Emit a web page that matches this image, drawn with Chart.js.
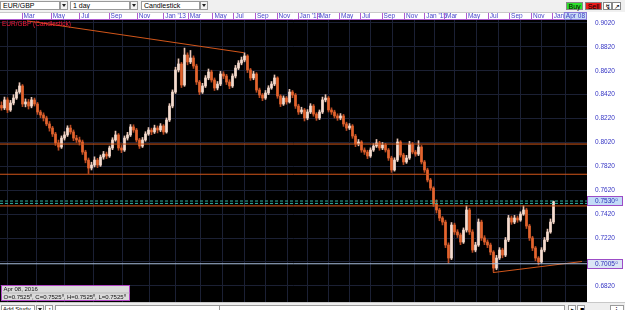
<!DOCTYPE html>
<html>
<head>
<meta charset="utf-8">
<script src="https://cdn.jsdelivr.net/npm/chart.js@4.4.0/dist/chart.umd.min.js"></script>
<style>
body { margin:0; width:625px; height:310px; overflow:hidden; background:#f0f0f0; position:relative;
       font-family:"Liberation Sans", Arial, sans-serif; font-size:7px; color:#000; }
.box { position:absolute; top:1px; height:9px; box-sizing:border-box; background:#fff; border:1px solid #9a9a9a;
       line-height:7px; padding-left:2px; white-space:nowrap; overflow:hidden; }
.arrow { position:absolute; top:1px; height:9px; width:8px; box-sizing:border-box; background:#f4f4f4; border:1px solid #9a9a9a; }
.arrow:after { content:""; position:absolute; left:1px; top:2px; border-left:2.5px solid transparent;
       border-right:2.5px solid transparent; border-top:3px solid #222; }
.btn { position:absolute; top:2px; height:8px; box-sizing:border-box; line-height:7px; text-align:center; border:1px solid #888; }
#cv { position:absolute; left:0; top:12px; }
#bottom { position:absolute; left:0; top:302px; width:625px; height:8px; background:#eeeeee; border-top:1px solid #c8c8c8; }
</style>
</head>
<body>
<div class="box" style="left:0;width:60px">EUR/GBP</div><div class="arrow" style="left:60px"></div>
<div class="box" style="left:70px;width:60px">1 day</div><div class="arrow" style="left:130px"></div>
<div class="box" style="left:141px;width:59px">Candlestick</div><div class="arrow" style="left:200px"></div>
<div class="btn" style="left:566px;width:17px;background:#2ce02c">Buy</div>
<div class="btn" style="left:585px;width:17px;background:#ee1a1a">Sell</div>
<div class="btn" style="left:603px;width:9px;background:#fff">&#8623;</div>
<div class="btn" style="left:612px;width:9px;background:#fff">&#8599;</div>

<canvas id="cv" width="625" height="290"></canvas>

<div id="bottom">
  <div class="box" style="left:1px;top:2px;width:34px;font-size:6px;padding-left:1px">Add Study</div>
  <div class="arrow" style="left:36px;top:2px"></div>
  <div class="box" style="left:45px;top:2px;width:8px">&#8597;</div>
  <div class="box" style="left:55px;top:2px;width:165px"></div>
  <div class="box" style="left:220px;top:2px;width:345px;border-left:none"></div>
  <div class="box" style="left:568px;top:2px;width:8px">&#9656;</div>
  <div class="box" style="left:577px;top:2px;width:8px">&#9632;</div>
  <div class="box" style="left:610px;top:2px;width:14px">&#8942;</div>
</div>

<script>
// EUR/GBP, one candle per slot, prices in pips (x 10000)
const firstOpen = 8330
const closes = [8309,8376,8292,8350,8392,8442,8493,8342,8359,8325,
  8376,8342,8275,8250,8225,8175,8141,8091,8016,7982,
  8057,8083,8141,8108,8057,8041,8024,7940,7873,7806,
  7831,7873,7831,7898,7923,7907,7974,8041,8083,7974,
  7957,8057,8083,8150,8124,8041,7990,8041,8091,8124,
  8108,8141,8124,8158,8108,8208,8325,8442,8627,8677,
  8501,8752,8694,8727,8660,8526,8442,8493,8560,8610,
  8543,8476,8509,8593,8576,8526,8493,8576,8643,8685,
  8710,8744,8627,8560,8593,8459,8417,8392,8434,8476,
  8509,8560,8409,8342,8392,8359,8442,8417,8325,8275,
  8292,8225,8275,8325,8258,8225,8275,8376,8392,8292,
  8275,8242,8225,8242,8175,8141,8158,8074,8007,8024,
  7957,7940,7907,7957,7990,8016,7974,7999,7957,7890,
  7790,7873,8024,7915,7857,7890,8007,7940,7923,7982,
  7857,7790,7706,7639,7505,7455,7388,7354,7162,7053,
  7329,7271,7246,7187,7287,7455,7271,7120,7162,7354,
  7221,7187,7162,7103,6969,7053,7120,7078,7204,7388,
  7354,7388,7371,7421,7455,7321,7221,7137,7053,7020,
  7120,7204,7271,7354,7525]
const highs = [8360,8400,8395,8372,8420,8462,8520,8505,8385,8380,
  8398,8392,8355,8290,8268,8240,8195,8155,8105,8040,
  8075,8110,8160,8165,8125,8080,8065,8040,7955,7890,
  7855,7900,7888,7915,7945,7940,7990,8060,8115,8095,
  7995,8075,8105,8170,8168,8138,8055,8062,8110,8145,
  8140,8165,8158,8178,8170,8225,8345,8460,8650,8720,
  8690,8810,8770,8790,8745,8675,8540,8515,8580,8635,
  8625,8560,8530,8615,8612,8590,8545,8595,8665,8705,
  8735,8770,8755,8640,8615,8605,8475,8430,8455,8495,
  8530,8585,8570,8420,8410,8405,8465,8455,8430,8340,
  8315,8305,8295,8345,8338,8270,8292,8400,8420,8405,
  8310,8290,8260,8262,8255,8190,8178,8170,8088,8045,
  8035,7975,7955,7975,8010,8045,8030,8020,8012,7970,
  7905,7892,8050,8035,7930,7912,8030,8020,7955,8035,
  7995,7870,7805,7720,7650,7540,7470,7400,7370,7180,
  7350,7345,7290,7262,7305,7490,7470,7290,7185,7380,
  7370,7240,7205,7178,7115,7075,7140,7135,7225,7410,
  7405,7410,7405,7440,7490,7470,7335,7235,7150,7065,
  7140,7225,7295,7380,7530]
const lows = [8290,8295,8270,8280,8335,8380,8430,8320,8318,8300,
  8310,8325,8255,8228,8200,8160,8115,8070,7995,7955,
  7970,8040,8070,8090,8035,8020,7998,7920,7850,7760,
  7790,7815,7810,7820,7880,7885,7895,7960,8030,7955,
  7935,7945,8040,8070,8105,8025,7970,7978,8030,8080,
  8085,8095,8100,8110,8088,8098,8195,8310,8430,8610,
  8480,8490,8670,8680,8640,8505,8420,8430,8480,8545,
  8525,8455,8460,8495,8555,8505,8470,8480,8560,8630,
  8670,8695,8605,8540,8545,8440,8395,8370,8380,8420,
  8465,8495,8390,8320,8330,8340,8350,8395,8305,8255,
  8260,8200,8210,8262,8240,8205,8212,8262,8360,8275,
  8255,8225,8205,8210,8155,8120,8128,8055,7985,7992,
  7938,7920,7885,7895,7945,7978,7955,7960,7940,7870,
  7770,7780,7860,7898,7835,7845,7878,7925,7905,7910,
  7840,7770,7690,7620,7485,7430,7365,7330,7140,7010,
  7040,7250,7225,7165,7175,7270,7250,7100,7105,7150,
  7200,7165,7140,7080,6940,6955,7040,7055,7065,7190,
  7335,7340,7352,7360,7410,7300,7200,7115,7030,6995,
  7010,7105,7190,7260,7340]
// open = previous close
const opens = [firstOpen, ...closes.slice(0, -1)]

// timeline labels (slot position of each month start)
const monthPos = [6.7,16.4,25.9,35.7,45.1,53.9,62.1,70.3,77.3,84.5,91.7,98.7,
  105.3,112.5,119.5,126.7,134.2,140.9,147.5,154.8,162.1,169.2,176.5,183.4,192.8]
const monthLabels = ['Mar','May','Jul','Sep','Nov',"Jan '13",'Mar','May','Jul','Sep','Nov',"Jan '14",
  'Mar','May','Jul','Sep','Nov',"Jan '15",'Mar','May','Jul','Sep','Nov',"Jan '16",'']
const yTicks = [0.9020,0.8820,0.8620,0.8420,0.8220,0.8020,0.7820,0.7620,0.7420,0.7220,0.7020,0.6820]

// drawn lines: horizontal levels and trend lines
const orangeLevels = [0.8007, 0.7754, 0.7489]
const dashLevels = [0.7530, 0.7510]
const supportLevel = 0.7005
const trendTop = [[8.5, 0.9038], [80.8, 0.8771]]
const trendBottom = [[163.8, 0.6931], [193.5, 0.7024]]
const lastPrice = 0.7530
const dateLabel = 'Apr 08'
const infoDate = 'Apr 08, 2016'
const infoOhlc = 'O=0.7525\u2070, C=0.7525\u2070, H=0.7525\u2070, L=0.7525\u2070'

const xMin = -0.5, xMax = 195.17
const font = '"Liberation Sans", Arial, sans-serif'
const upCol = '#f6dccf', downCol = '#e4642e'
const orange = '#d2561a'

const p = v => v / 10000
const isUp = i => closes[i] >= opens[i]

const wickData = closes.map((c, i) => ({ x: i, y: [p(lows[i]), p(highs[i])] }))
const bodyData = closes.map((c, i) => ({ x: i, y: [p(opens[i]), p(c)] }))

function hLine(v, color, dash) {
  return { type: 'line', data: [{ x: xMin, y: v }, { x: xMax, y: v }], borderColor: color,
    borderWidth: 1, borderDash: dash || [], pointRadius: 0, order: 0 }
}
function tLine(pts) {
  return { type: 'line', data: pts.map(q => ({ x: q[0], y: q[1] })), borderColor: orange,
    borderWidth: 1, pointRadius: 0, order: 0 }
}

const datasets = []
orangeLevels.forEach(v => datasets.push(hLine(v, orange)))
dashLevels.forEach(v => datasets.push(hLine(v, '#2fb3a2', [3, 2])))
datasets.push(hLine(supportLevel, '#a9bedc'))
datasets.push(tLine(trendTop))
datasets.push(tLine(trendBottom))
datasets.push({ type: 'bar', data: bodyData, barThickness: 2, grouped: false, minBarLength: 1, order: 1,
  backgroundColor: ctx => isUp(ctx.dataIndex) ? upCol : downCol })
datasets.push({ type: 'bar', data: wickData, barThickness: 1, grouped: false, order: 2,
  backgroundColor: ctx => isUp(ctx.dataIndex) ? '#e8c4b4' : '#b84a22' })

// backgrounds, timeline marks, price boxes, info box
const decor = {
  id: 'decor',
  beforeDraw(chart) {
    const { ctx, chartArea: a, width, height } = chart
    ctx.save()
    ctx.fillStyle = '#fff'
    ctx.fillRect(0, 0, width, height)
    ctx.fillStyle = '#000'
    ctx.fillRect(a.left, a.top, a.right - a.left, a.bottom - a.top)
    ctx.restore()
  },
  afterDraw(chart) {
    const { ctx, chartArea: a, width } = chart
    const xs = chart.scales.x, ys = chart.scales.y
    ctx.save()
    // timeline borders and ticks
    ctx.strokeStyle = '#c9c9c9'
    ctx.beginPath(); ctx.moveTo(0, 0.5); ctx.lineTo(a.right, 0.5); ctx.stroke()
    ctx.strokeStyle = '#b05cd0'
    ctx.beginPath(); ctx.moveTo(0, a.top - 0.5); ctx.lineTo(a.right, a.top - 0.5); ctx.stroke()
    monthPos.slice(0, -1).forEach(v => {
      const x = Math.round(xs.getPixelForValue(v)) + 0.5
      ctx.beginPath(); ctx.moveTo(x, 1); ctx.lineTo(x, a.top); ctx.stroke()
    })
    // current date box
    ctx.font = '6.5px ' + font
    const dw = ctx.measureText(dateLabel).width + 4
    ctx.fillStyle = '#c9dcf5'
    ctx.fillRect(a.right - dw, 0.5, dw, a.top - 1)
    ctx.strokeStyle = '#8a7ad6'
    ctx.strokeRect(a.right - dw + 0.5, 0.5, dw - 1, a.top - 1)
    ctx.fillStyle = '#3a3ac4'
    ctx.textBaseline = 'middle'
    ctx.fillText(dateLabel, a.right - dw + 2, a.top / 2 + 0.5)

    // price boxes on the right axis
    const priceBox = (v, fill) => {
      const y = Math.round(ys.getPixelForValue(v))
      ctx.fillStyle = fill
      ctx.fillRect(a.right, y - 4.5, width - a.right - 2, 9)
      ctx.strokeStyle = '#9c4cc6'
      ctx.strokeRect(a.right + 0.5, y - 4.5, width - a.right - 3, 9)
      ctx.fillStyle = '#2a2ab8'
      ctx.font = '6.5px ' + font
      ctx.fillText(v.toFixed(4), a.right + 8, y + 0.5)
      const tw = ctx.measureText(v.toFixed(4)).width
      ctx.font = '4px ' + font
      ctx.fillText('0', a.right + 8 + tw + 0.5, y - 1.5)
    }
    priceBox(lastPrice, '#c2dbf7')
    priceBox(supportLevel, '#dbe5f5')

    // symbol label
    ctx.font = '6.5px ' + font
    ctx.fillStyle = '#ff1a3c'
    ctx.fillText('EUR/GBP (Candlestick)', a.left + 2, a.top + 4)

    // info box, sized on its text
    ctx.font = '6px ' + font
    const bw = Math.ceil(ctx.measureText(infoOhlc).width) + 5, bh = 15
    const bx = a.left + 1.5, by = a.bottom - bh - 1.5
    ctx.fillStyle = '#dadada'
    ctx.fillRect(bx, by, bw, bh)
    ctx.strokeStyle = '#b044c4'
    ctx.strokeRect(bx, by, bw, bh)
    ctx.strokeStyle = '#b9b9b9'
    ctx.beginPath(); ctx.moveTo(bx, by + bh / 2); ctx.lineTo(bx + bw, by + bh / 2); ctx.stroke()
    ctx.fillStyle = '#111'
    ctx.fillText(infoDate, bx + 2, by + bh / 4 + 0.5)
    ctx.fillText(infoOhlc, bx + 2, by + bh * 3 / 4 + 0.5)
    ctx.restore()
  }
}

const config = {
  type: 'bar',
  data: { datasets: datasets },
  options: {
    responsive: false,
    animation: false,
    events: [],
    layout: { padding: 0 },
    plugins: { legend: { display: false }, tooltip: { enabled: false } },
    scales: {
      x: {
        type: 'linear', position: 'top', min: xMin, max: xMax, offset: false,
        afterBuildTicks: s => { s.ticks = monthPos.map(v => ({ value: v })) },
        afterFit: s => { s.height = 8; s.paddingLeft = 0; s.paddingRight = 0 },
        ticks: { autoSkip: false, maxRotation: 0, align: 'start', labelOffset: 2, padding: 0,
          color: '#4646cc', font: { size: 6.5, family: font },
          callback: (v, i) => monthLabels[i] },
        grid: { color: '#1b2034', drawTicks: false },
        border: { display: false }
      },
      y: {
        type: 'linear', position: 'right', min: 0.6685, max: 0.9045,
        afterBuildTicks: s => { s.ticks = yTicks.map(v => ({ value: v })) },
        // no label overhang padding, chart area runs to the canvas bottom
        afterFit: s => { s.width = 38; s.paddingTop = 0; s.paddingBottom = 0 },
        ticks: { padding: 8, color: '#3434c4', font: { size: 6.5, family: font },
          callback: v => v.toFixed(4) },
        grid: { color: '#1b2034', drawTicks: false },
        border: { display: false }
      }
    }
  },
  plugins: [decor]
}

const chartOne = new Chart(document.getElementById('cv'), config)
</script>
</body>
</html>
